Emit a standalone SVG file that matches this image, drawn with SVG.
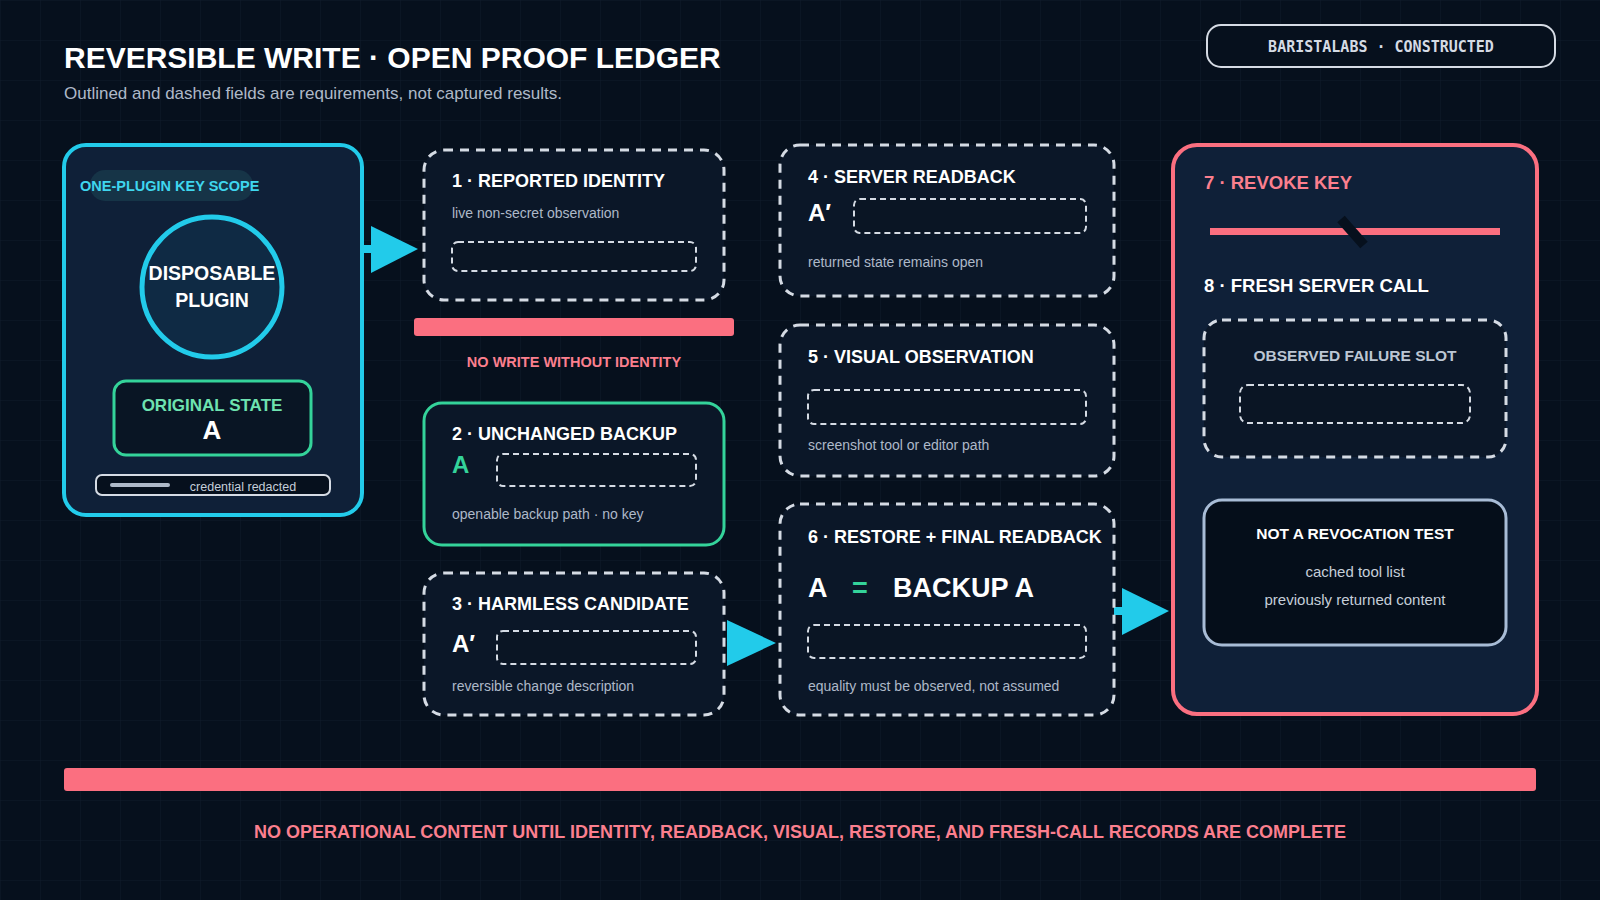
<svg xmlns="http://www.w3.org/2000/svg" width="1600" height="900" viewBox="0 0 1600 900">
<defs>
<pattern id="grid" width="40" height="40" patternUnits="userSpaceOnUse"><path d="M40 0H0V40" fill="none" stroke="#0f1c2c" stroke-width="1"/></pattern>
<style>
text{font-family:"Liberation Sans",Arial,sans-serif}
.h{font-weight:bold;fill:#fff;font-size:18px}
.s{fill:#aeb9c8;font-size:14px}
.dbox{fill:#0b1728;stroke:#d5dbe4;stroke-width:3;stroke-dasharray:9 7}
.slot{fill:#0a1524;stroke:#d5dbe4;stroke-width:2;stroke-dasharray:6 4}
.arr{fill:#22cbea}
</style>
</defs>
<rect width="1600" height="900" fill="#06101d"/>
<rect width="1600" height="900" fill="url(#grid)"/>
<text x="64" y="68" font-size="30" font-weight="bold" fill="#fff">REVERSIBLE WRITE · OPEN PROOF LEDGER</text>
<text x="64" y="99" font-size="17" fill="#aeb9c8">Outlined and dashed fields are requirements, not captured results.</text>
<g id="badge"><rect x="1207" y="25" width="348" height="42" rx="14" fill="#06101d" stroke="#d5dbe4" stroke-width="2"/><text x="1381" y="52" text-anchor="middle" font-size="15" font-weight="bold" fill="#d5dbe4" style="font-family:'DejaVu Sans Mono',monospace">BARISTALABS · CONSTRUCTED</text></g>
<g id="connectors">
<rect x="362" y="245" width="12" height="8" class="arr"/>
<polygon points="371,226 418,249 371,273" class="arr"/>
<polygon points="727,620 776,643 727,666" class="arr"/>
<rect x="1114" y="607" width="12" height="8" class="arr"/>
<polygon points="1122,588 1169,611 1122,635" class="arr"/>
</g>
<g id="plugin">
<rect x="64" y="145" width="298" height="370" rx="22" fill="#0f2038" stroke="#22cbea" stroke-width="4"/>
<rect x="90" y="170" width="163" height="31" rx="15" fill="#163447"/>
<text x="80" y="191" font-size="14.5" font-weight="bold" fill="#3fd6ee">ONE-PLUGIN KEY SCOPE</text>
<circle cx="212" cy="287" r="70" fill="#0f2a44" stroke="#22cbea" stroke-width="5"/>
<text x="212" y="280" text-anchor="middle" class="h" font-size="19.5" style="font-size:19.5px">DISPOSABLE</text>
<text x="212" y="307" text-anchor="middle" class="h" style="font-size:19.5px">PLUGIN</text>
<rect x="114" y="381" width="197" height="74" rx="12" fill="#091524" stroke="#34d39a" stroke-width="3"/>
<text x="212" y="411" text-anchor="middle" font-size="17" font-weight="bold" fill="#6ee3b0">ORIGINAL STATE</text>
<text x="212" y="439" text-anchor="middle" font-size="26" font-weight="bold" fill="#fff">A</text>
<rect x="96" y="475" width="234" height="20" rx="6" fill="#06101d" stroke="#d5dbe4" stroke-width="2"/>
<rect x="110" y="483" width="60" height="4" rx="2" fill="#aeb9c8"/>
<text x="243" y="491" text-anchor="middle" font-size="12.5" fill="#c5ced9">credential redacted</text>
</g>
<g id="n1">
<rect x="424" y="150" width="300" height="150" rx="20" class="dbox"/>
<text x="452" y="187" class="h">1 · REPORTED IDENTITY</text>
<text x="452" y="218" class="s">live non-secret observation</text>
<rect x="452" y="242" width="244" height="29" rx="6" class="slot"/>
</g>
<g id="gate">
<rect x="414" y="318" width="320" height="18" rx="3" fill="#fb6f80"/>
<text x="574" y="367" text-anchor="middle" font-size="14.5" font-weight="bold" fill="#fb7f8e">NO WRITE WITHOUT IDENTITY</text>
</g>
<g id="n2">
<rect x="424" y="403" width="300" height="142" rx="18" fill="#0b1728" stroke="#34d39a" stroke-width="3"/>
<text x="452" y="440" class="h">2 · UNCHANGED BACKUP</text>
<text x="452" y="473" font-size="24" font-weight="bold" fill="#34d39a">A</text>
<rect x="497" y="454" width="199" height="32" rx="6" class="slot"/>
<text x="452" y="519" class="s">openable backup path · no key</text>
</g>
<g id="n3">
<rect x="424" y="573" width="300" height="142" rx="20" class="dbox"/>
<text x="452" y="610" class="h">3 · HARMLESS CANDIDATE</text>
<text x="452" y="652" font-size="24" font-weight="bold" fill="#fff">A′</text>
<rect x="497" y="631" width="199" height="33" rx="6" class="slot"/>
<text x="452" y="691" class="s">reversible change description</text>
</g>
<g id="n4">
<rect x="780" y="145" width="334" height="151" rx="20" class="dbox"/>
<text x="808" y="183" class="h">4 · SERVER READBACK</text>
<text x="808" y="221" font-size="24" font-weight="bold" fill="#fff">A′</text>
<rect x="854" y="199" width="232" height="34" rx="6" class="slot"/>
<text x="808" y="267" class="s">returned state remains open</text>
</g>
<g id="n5">
<rect x="780" y="325" width="334" height="151" rx="20" class="dbox"/>
<text x="808" y="363" class="h">5 · VISUAL OBSERVATION</text>
<rect x="808" y="390" width="278" height="34" rx="6" class="slot"/>
<text x="808" y="450" class="s">screenshot tool or editor path</text>
</g>
<g id="n6">
<rect x="780" y="504" width="334" height="211" rx="20" class="dbox"/>
<text x="808" y="543" class="h">6 · RESTORE + FINAL READBACK</text>
<text x="808" y="597" font-size="27" font-weight="bold" fill="#fff">A</text>
<text x="852" y="597" font-size="27" font-weight="bold" fill="#34d39a">=</text>
<text x="893" y="597" font-size="27" font-weight="bold" fill="#fff">BACKUP A</text>
<rect x="808" y="625" width="278" height="33" rx="6" class="slot"/>
<text x="808" y="691" class="s">equality must be observed, not assumed</text>
</g>
<g id="revoke">
<rect x="1173" y="145" width="364" height="569" rx="24" fill="#0f2038" stroke="#fb6f80" stroke-width="4"/>
<text x="1204" y="189" font-size="18.5" font-weight="bold" fill="#fb7f8e">7 · REVOKE KEY</text>
<rect x="1210" y="228" width="290" height="7" fill="#fb6f80"/>
<line x1="1341" y1="219" x2="1364" y2="245" stroke="#06101d" stroke-width="10"/>
<text x="1204" y="292" class="h" style="font-size:18.5px">8 · FRESH SERVER CALL</text>
<rect x="1204" y="320" width="302" height="137" rx="18" class="dbox"/>
<text x="1355" y="361" text-anchor="middle" font-size="15.5" font-weight="bold" fill="#bcc6d3">OBSERVED FAILURE SLOT</text>
<rect x="1240" y="385" width="230" height="38" rx="8" class="slot"/>
<rect x="1204" y="500" width="302" height="145" rx="18" fill="#050e1a" stroke="#a8bcd6" stroke-width="3"/>
<text x="1355" y="539" text-anchor="middle" font-size="15.5" font-weight="bold" fill="#fff">NOT A REVOCATION TEST</text>
<text x="1355" y="577" text-anchor="middle" font-size="15" fill="#c5ced9">cached tool list</text>
<text x="1355" y="605" text-anchor="middle" font-size="15" fill="#c5ced9">previously returned content</text>
</g>
<g id="footer">
<rect x="64" y="768" width="1472" height="23" rx="3" fill="#fb6f80"/>
<text x="800" y="838" text-anchor="middle" font-size="18" font-weight="bold" fill="#fb7f8e">NO OPERATIONAL CONTENT UNTIL IDENTITY, READBACK, VISUAL, RESTORE, AND FRESH-CALL RECORDS ARE COMPLETE</text>
</g>
</svg>
